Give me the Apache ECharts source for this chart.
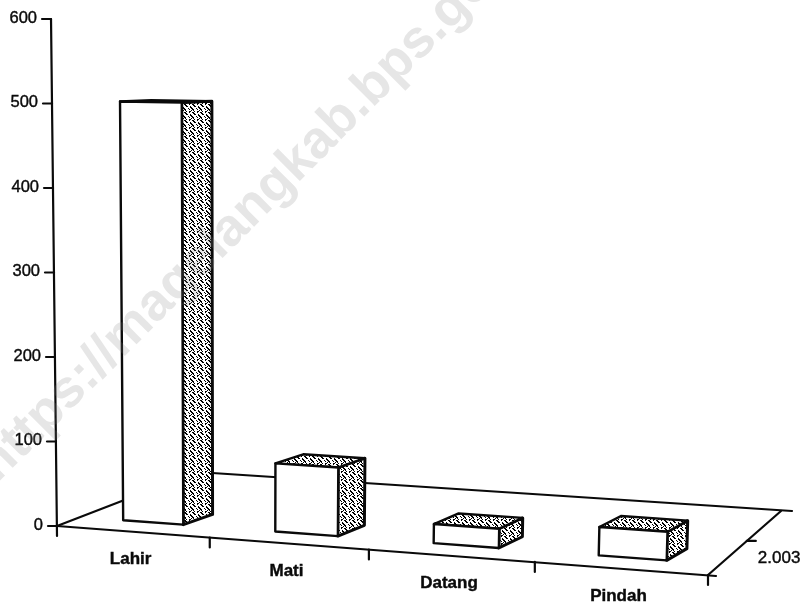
<!DOCTYPE html>
<html>
<head>
<meta charset="utf-8">
<style>
  html, body { margin: 0; padding: 0; background: #fff; }
  #chart { width: 804px; height: 608px; }
</style>
</head>
<body>
<div id="chart"></div>
<script src="https://cdn.jsdelivr.net/npm/echarts@6/dist/echarts.min.js"></script>
<script>
const categories = ['Lahir', 'Mati', 'Datang', 'Pindah'];
const values = [502, 80, 22, 32];
const yTicks = [0, 100, 200, 300, 400, 500, 600];
const depthLabels = ['2.003'];

const INK = '#0a0a0a';
const LINE = 2.2;
const FONT = 'Liberation Sans';

// dithered hatch of the bar sides, as on the scan
function hatch() {
  const rows = [
    '##...#..',
    '.##.....',
    '..##..#.',
    '......##',
    '#...#..#',
    '##...#..',
    '.#.....#',
    '..#..##.'
  ];
  const c = document.createElement('canvas');
  c.width = c.height = 8;
  const ctx = c.getContext('2d');
  ctx.fillStyle = '#fff';
  ctx.fillRect(0, 0, 8, 8);
  ctx.fillStyle = '#000';
  rows.forEach((r, y) => r.split('').forEach((p, x) => {
    if (p === '#') ctx.fillRect(x, y, 1, 1);
  }));
  return { image: c, repeat: 'repeat' };
}
const hatchFill = hatch();

// floor plane: value axis x (0..4) and depth (0..1) projected with a homography,
// height comes from the y axis and shrinks with distance
function makeProject(params, api) {
  const cs = params.coordSys;
  const bottom = cs.y + cs.height;
  const x0 = cs.x, y0 = bottom;
  const x1 = cs.x + cs.width, y1 = bottom + 49;
  const x2 = x1 + 73, y2 = bottom - 15;
  const x3 = cs.x + 140, y3 = bottom - 54;
  const dx1 = x1 - x2, dx2 = x3 - x2, sx = x0 - x1 + x2 - x3;
  const dy1 = y1 - y2, dy2 = y3 - y2, sy = y0 - y1 + y2 - y3;
  const det = dx1 * dy2 - dx2 * dy1;
  const g = (sx * dy2 - dx2 * sy) / det;
  const h = (dx1 * sy - sx * dy1) / det;
  const a = x1 - x0 + g * x1, b = x3 - x0 + h * x3;
  const d = y1 - y0 + g * y1, e = y3 - y0 + h * y3;
  return function (xv, depth, val) {
    const u = (api.coord([xv, 0])[0] - cs.x) / cs.width;
    const w = g * u + h * depth + 1;
    const px = (a * u + b * depth + x0) / w;
    const py = (d * u + e * depth + y0) / w;
    const hgt = api.size([0, val || 0])[1] / w;
    // verticals lean a little, they meet far below the page
    return [px + (px - 240) * hgt / 15500, py - hgt];
  };
}

function seg(p, q, width) {
  return {
    type: 'line',
    shape: { x1: p[0], y1: p[1], x2: q[0], y2: q[1] },
    style: { stroke: INK, lineWidth: width || LINE, lineCap: 'round' }
  };
}

// thin outline on the text, the scan thickened everything
function label(text, x, y, align, font) {
  return {
    type: 'text', x: x, y: y,
    style: {
      text: text, fill: INK, font: font, textAlign: align, textVerticalAlign: 'middle',
      stroke: INK, lineWidth: 0.4
    }
  };
}

function renderFloor(params, api) {
  const p = makeProject(params, api);
  const kids = [];
  const f0 = p(0, 0), f1 = p(4, 0), b1 = p(4, 1), b0 = p(0, 1);
  kids.push(seg(f0, [f1[0] + 8, f1[1] + 1]));
  kids.push(seg(f0, b0));
  kids.push(seg(b0, [b1[0] + 11, b1[1]]));
  kids.push(seg(f1, b1));
  // y axis runs a bit under the floor
  const top = p(0, 0, 600);
  kids.push(seg(top, [f0[0], f0[1] + 10]));
  for (let i = 1; i <= categories.length; i++) {
    const t = p(i, 0);
    kids.push(seg(t, [t[0], t[1] + 10]));
  }
  const dt = p(4, 0.5);
  kids.push(seg(dt, [dt[0] + 9, dt[1]]));
  kids.push(label(depthLabels[0], dt[0] + 11, dt[1] + 17, 'left', '17px ' + FONT));
  return { type: 'group', children: kids };
}

function renderYTick(params, api) {
  const p = makeProject(params, api);
  const t = p(0, 0, api.value(0));
  return {
    type: 'group',
    children: [
      seg(t, [t[0] - 9, t[1]]),
      label(String(api.value(0)), t[0] - 14, t[1] - 1, 'right', '16.5px ' + FONT)
    ]
  };
}

function renderLabel(params, api) {
  const p = makeProject(params, api);
  const t = p(api.value(0) + 0.5, 0);
  return label(categories[api.value(0)], t[0] - 2, t[1] + 28, 'center', 'bold 17px ' + FONT);
}

function renderBar(params, api) {
  const p = makeProject(params, api);
  const i = api.value(0), val = api.value(1);
  const l = i + 0.29, r = i + 0.69;
  const lb = l + 0.03, rb = r + 0.03;
  const dFront = 0.15, dBack = 0.33;
  const flb = p(l, dFront), frb = p(r, dFront), brb = p(rb, dBack);
  const flt = p(l, dFront, val), frt = p(r, dFront, val), brt = p(rb, dBack, val), blt = p(lb, dBack, val);
  const face = (pts, fill, width) => ({
    type: 'polygon',
    shape: { points: pts },
    style: { fill: fill, stroke: INK, lineWidth: width, lineJoin: 'round' }
  });
  return {
    type: 'group',
    children: [
      face([frb, brb, brt, frt], hatchFill, 3),
      face([flt, frt, brt, blt], hatchFill, 2.4),
      face([flb, frb, frt, flt], '#fff', 2.4)
    ]
  };
}

const chart = echarts.init(document.getElementById('chart'));
chart.setOption({
  animation: false,
  backgroundColor: '#fff',
  grid: { left: 57, top: 19, width: 651, height: 507 },
  xAxis: { type: 'value', min: 0, max: categories.length, show: false },
  yAxis: { type: 'value', min: 0, max: 600, interval: 100, show: false },
  tooltip: { show: false },
  // the scan's watermark lies over the whole drawing
  graphic: [{
    type: 'text',
    x: -13,
    y: 473,
    rotation: 45 * Math.PI / 180,
    z: 100,
    silent: true,
    style: {
      text: 'https://magelangkab.bps.go.id',
      font: 'bold 53px ' + FONT,
      fill: 'rgba(128,128,128,0.2)',
      textVerticalAlign: 'middle'
    }
  }],
  series: [
    { type: 'custom', silent: true, clip: false, data: [[0]], renderItem: renderFloor },
    { type: 'custom', silent: true, clip: false, data: yTicks.map(v => [v]), encode: { y: 0 }, renderItem: renderYTick },
    { type: 'custom', silent: true, clip: false, data: categories.map((c, i) => [i]), renderItem: renderLabel },
    { type: 'custom', silent: true, clip: false, data: values.map((v, i) => [i, v]), encode: { x: 0, y: 1 }, renderItem: renderBar }
  ]
});
</script>
</body>
</html>
